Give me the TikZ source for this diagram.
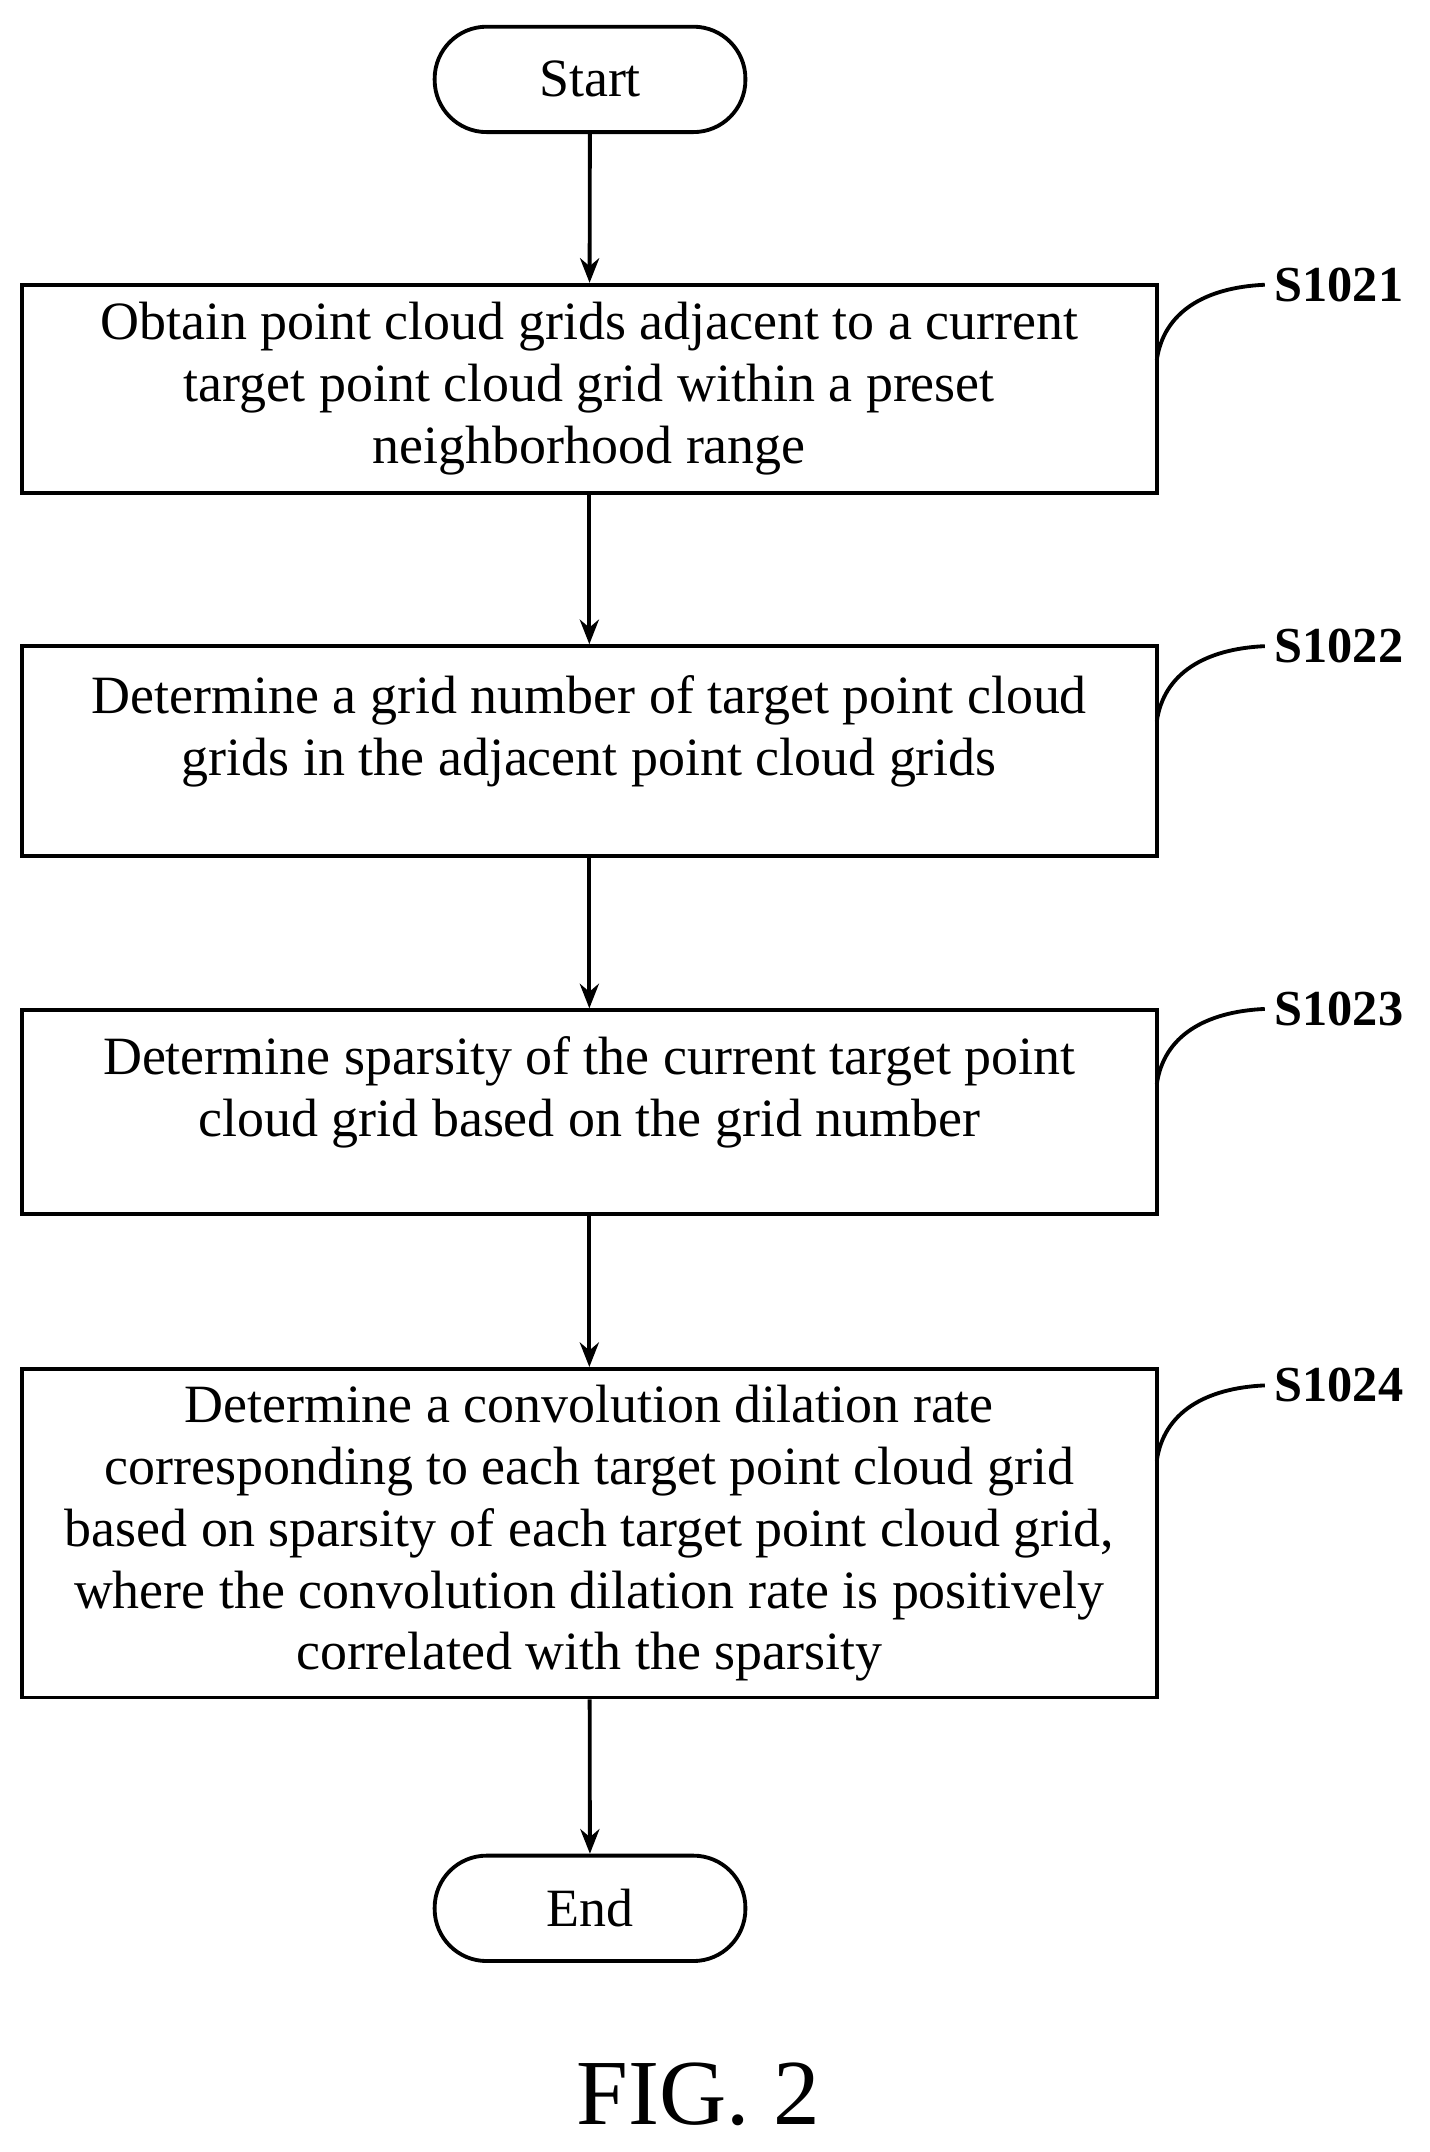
\documentclass[tikz,border=0pt]{standalone}
\usepackage{fontspec}
\setmainfont{Liberation Serif}
\usetikzlibrary{arrows.meta}
\begin{document}
\begin{tikzpicture}[x=0.5pt,y=-0.5pt,
 box/.style={draw,line width=1.4pt,minimum width=414.5pt,align=center,font=\fontsize{19.7}{22.6}\selectfont,inner sep=0pt},
 term/.style={draw,line width=1.4pt,rounded corners=19pt,minimum width=113.5pt,minimum height=38.5pt,font=\fontsize{19.7}{22}\selectfont},
 arr/.style={line width=1.4pt,-{Stealth[length=9pt,width=7pt]}},
 lab/.style={font=\bfseries\fontsize{18.4}{20}\selectfont},
 cur/.style={line width=1.4pt}]
\useasboundingbox (0,0) rectangle (1044,1572);
\node[term] (s) at (431,58) {Start};
\node[box,minimum height=76pt] (b1) at (430.5,284) {Obtain point cloud grids adjacent to a current\\target point cloud grid within a preset\\neighborhood range};
\node[box,minimum height=76.5pt] (b2) at (430.5,548.5) {Determine a grid number of target point cloud\\grids in the adjacent point cloud grids\\[-4pt]\phantom{x}};
\node[box,minimum height=74.5pt] (b3) at (430.5,812.5) {Determine sparsity of the current target point\\cloud grid based on the grid number\\[-4pt]\phantom{x}};
\node[box,minimum height=120pt] (b4) at (430.5,1120) {Determine a convolution dilation rate\\corresponding to each target point cloud grid\\based on sparsity of each target point cloud grid,\\where the convolution dilation rate is positively\\correlated with the sparsity};
\node[term] (e) at (431,1394) {End};
\draw[arr] (s) -- (b1);
\draw[arr] (b1) -- (b2);
\draw[arr] (b2) -- (b3);
\draw[arr] (b3) -- (b4);
\draw[arr] (b4) -- (e);
\foreach \t/\y in {S1021/208,S1022/472,S1023/737,S1024/1012}{
 \node[lab] (l\t) at (978,\y) {\t};
 \draw[cur] (845,\y+55) .. controls (850,\y+20) and (880,\y+2) .. (l\t.west);
}
\node[font=\fontsize{34}{36}\selectfont] (fig) at (510,1530) {FIG. 2};
\end{tikzpicture}
\end{document}
